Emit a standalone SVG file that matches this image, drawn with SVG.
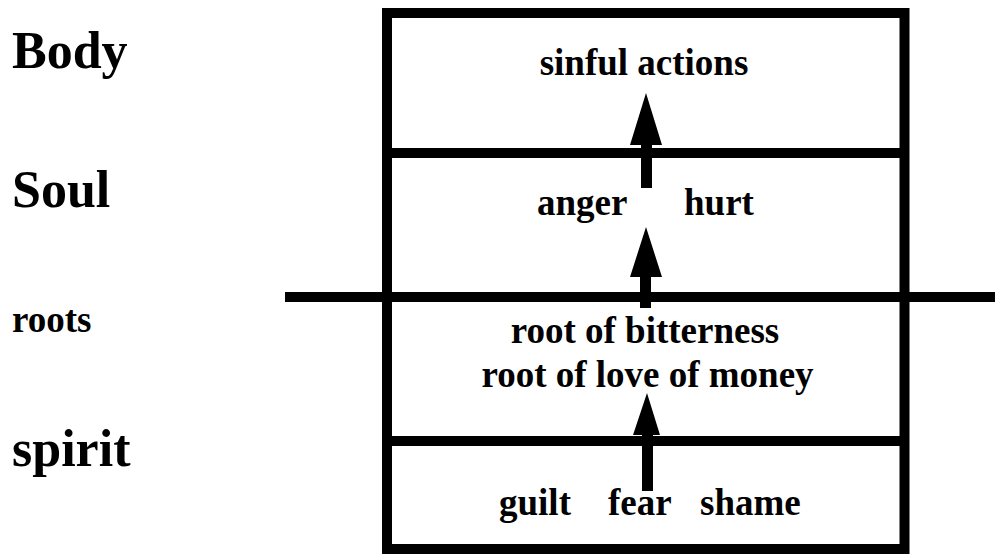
<svg xmlns="http://www.w3.org/2000/svg" width="995" height="554" viewBox="0 0 995 554">
<style>
.ln{stroke:#000;stroke-width:10;fill:none}
.t{font-weight:bold;fill:#000}
.big{font-size:52px}
.mid{font-size:37px}
.c{text-anchor:middle}
.arr{fill:#000;stroke:none}
</style>
<rect width="995" height="554" fill="#fff"/>
<g font-family="Liberation Serif, Times New Roman, DejaVu Serif, serif">
<g id="labels">
<text class="t big" x="12" y="68">Body</text>
<text class="t big" x="12" y="207">Soul</text>
<text class="t mid" x="12" y="332">roots</text>
<text class="t big" x="12" y="466">spirit</text>
</g>
<g id="frame">
<rect class="ln" x="387" y="13" width="517.5" height="536"/>
<line class="ln" x1="387" y1="153" x2="904.5" y2="153"/>
<line class="ln" x1="285" y1="297" x2="995" y2="297"/>
<line class="ln" x1="387" y1="441" x2="904.5" y2="441"/>
</g>
<g id="body-node">
<text class="t mid c" x="644" y="75">sinful actions</text>
</g>
<g id="soul-node">
<text class="t mid" x="537" y="215">anger</text>
<text class="t mid" x="684" y="215">hurt</text>
</g>
<g id="roots-node">
<text class="t mid c" x="645" y="343">root of bitterness</text>
<text class="t mid c" x="647.5" y="387">root of love of money</text>
</g>
<g id="spirit-node">
<text class="t mid" x="499" y="515">guilt</text>
<text class="t mid" x="608" y="515">fear</text>
<text class="t mid" x="700" y="515">shame</text>
</g>
</g>
<g id="connectors">
<path class="arr" d="M641 188V145H630L646 93L662 145H652V188Z"/>
<path class="arr" d="M640 308V277H630L646 227L662 277H651V308Z"/>
<path class="arr" d="M642 491V435H633L647 393L660 435H653V491Z"/>
</g>
</svg>
